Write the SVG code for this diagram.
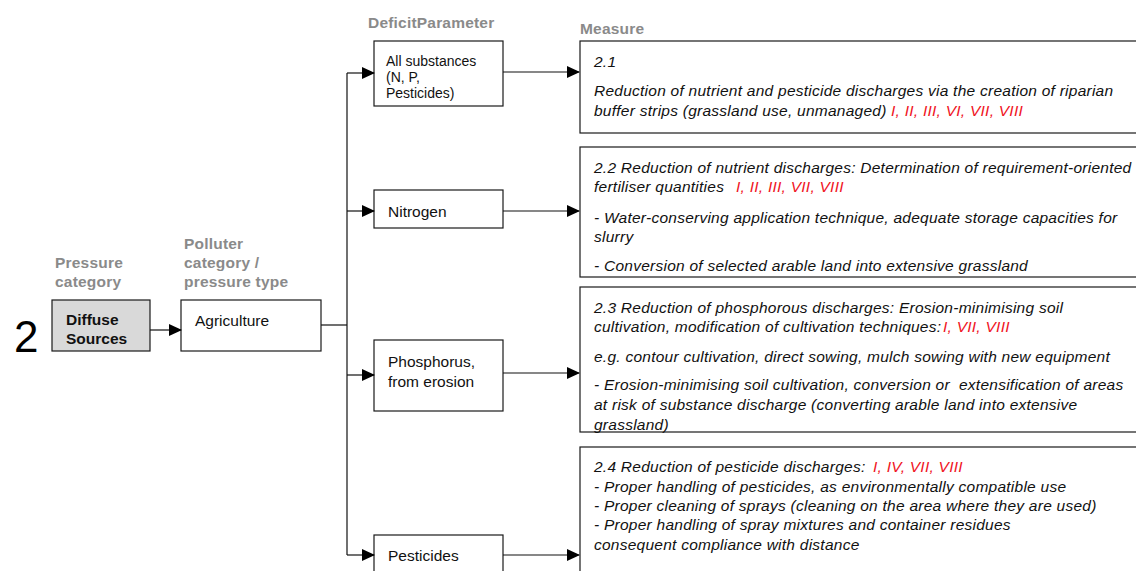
<svg xmlns="http://www.w3.org/2000/svg" width="1136" height="571" viewBox="0 0 1136 571">
  <style>
    .box { fill: #ffffff; stroke: #1a1a1a; stroke-width: 1.2; }
    .grey { fill: #d9d9d9; }
    .head { font-family: "Liberation Sans", Arial, sans-serif; font-size: 15.5px; font-weight: bold; fill: #8a8a8a; letter-spacing: 0.2px; }
    .lbl { font-family: "Liberation Sans", Arial, sans-serif; font-size: 15.5px; fill: #111111; }
    .small { font-size: 14px; }
    .bold { font-weight: bold; }
    .m { font-family: "Liberation Sans", Arial, sans-serif; font-size: 15.5px; font-style: italic; fill: #111111; letter-spacing: 0.25px; }
    .red { fill: #f0141e; }
    .conn { fill: none; stroke: #111111; stroke-width: 1.2; }
  </style>
  <defs>
    <marker id="arrow" markerUnits="userSpaceOnUse" markerWidth="13" markerHeight="12" refX="12" refY="6" orient="auto">
      <path d="M0,0 L13,6 L0,12 z" fill="#000000"/>
    </marker>
  </defs>
  <rect width="1136" height="571" fill="#ffffff"/>

  <!-- column headings -->
  <g id="headings">
    <text class="head" x="55" y="268">Pressure</text>
    <text class="head" x="55" y="287">category</text>
    <text class="head" x="184" y="249">Polluter</text>
    <text class="head" x="184" y="268">category /</text>
    <text class="head" x="184" y="287">pressure type</text>
    <text class="head" x="368" y="28">DeficitParameter</text>
    <text class="head" x="580" y="34">Measure</text>
  </g>

  <text x="14" y="352" font-family="Liberation Sans, Arial, sans-serif" font-size="44" fill="#000000">2</text>

  <g id="diffuse-sources">
    <rect class="box grey" x="52" y="300" width="98" height="51"/>
    <text class="lbl bold" x="66" y="325">Diffuse</text>
    <text class="lbl bold" x="66" y="344">Sources</text>
  </g>

  <g id="agriculture">
    <rect class="box" x="181" y="300" width="140" height="51"/>
    <text class="lbl" x="195" y="326">Agriculture</text>
  </g>

  <g id="all-substances">
    <rect class="box" x="374" y="41" width="129" height="65"/>
    <text class="lbl small" x="386" y="66">All substances</text>
    <text class="lbl small" x="386" y="82">(N, P,</text>
    <text class="lbl small" x="386" y="98">Pesticides)</text>
  </g>

  <g id="nitrogen">
    <rect class="box" x="374" y="190" width="129" height="38"/>
    <text class="lbl" x="388" y="217">Nitrogen</text>
  </g>

  <g id="phosphorus">
    <rect class="box" x="374" y="340" width="129" height="71"/>
    <text class="lbl" x="388" y="367">Phosphorus,</text>
    <text class="lbl" x="388" y="387">from erosion</text>
  </g>

  <g id="pesticides">
    <rect class="box" x="374" y="535" width="129" height="50"/>
    <text class="lbl" x="388" y="561">Pesticides</text>
  </g>

  <g id="measure-2-1">
    <rect class="box" x="580" y="41" width="570" height="92"/>
    <text class="m" x="594" y="67">2.1</text>
    <text class="m" x="594" y="96">Reduction of nutrient and pesticide discharges via the creation of riparian</text>
    <text class="m" x="594" y="116">buffer strips (grassland use, unmanaged)<tspan class="red" x="891">I, II, III, VI, VII, VIII</tspan></text>
  </g>

  <g id="measure-2-2">
    <rect class="box" x="580" y="147" width="570" height="130"/>
    <text class="m" x="594" y="173">2.2 Reduction of nutrient discharges: Determination of requirement-oriented</text>
    <text class="m" x="594" y="192">fertiliser quantities<tspan class="red" x="736">I, II, III, VII, VIII</tspan></text>
    <text class="m" x="594" y="223">- Water-conserving application technique, adequate storage capacities for</text>
    <text class="m" x="594" y="242">slurry</text>
    <text class="m" x="594" y="271">- Conversion of selected arable land into extensive grassland</text>
  </g>

  <g id="measure-2-3">
    <rect class="box" x="580" y="287" width="570" height="145"/>
    <text class="m" x="594" y="313">2.3 Reduction of phosphorous discharges: Erosion-minimising soil</text>
    <text class="m" x="594" y="332">cultivation, modification of cultivation techniques:<tspan class="red" x="943">I, VII, VIII</tspan></text>
    <text class="m" x="594" y="362">e.g. contour cultivation, direct sowing, mulch sowing with new equipment</text>
    <text class="m" x="594" y="390" xml:space="preserve">- Erosion-minimising soil cultivation, conversion or  extensification of areas</text>
    <text class="m" x="594" y="410">at risk of substance discharge (converting arable land into extensive</text>
    <text class="m" x="594" y="430">grassland)</text>
  </g>

  <g id="measure-2-4">
    <rect class="box" x="580" y="447" width="570" height="140"/>
    <text class="m" x="594" y="472">2.4 Reduction of pesticide discharges:<tspan class="red" x="873">I, IV, VII, VIII</tspan></text>
    <text class="m" x="594" y="492">- Proper handling of pesticides, as environmentally compatible use</text>
    <text class="m" x="594" y="511">- Proper cleaning of sprays (cleaning on the area where they are used)</text>
    <text class="m" x="594" y="530">- Proper handling of spray mixtures and container residues</text>
    <text class="m" x="594" y="550">consequent compliance with distance</text>
  </g>

  <g id="connectors">
    <line class="conn" x1="150" y1="330" x2="181" y2="330" marker-end="url(#arrow)"/>
    <line class="conn" x1="321" y1="325" x2="347" y2="325"/>
    <line class="conn" x1="347" y1="73" x2="347" y2="555"/>
    <line class="conn" x1="347" y1="73" x2="374" y2="73" marker-end="url(#arrow)"/>
    <line class="conn" x1="347" y1="211" x2="374" y2="211" marker-end="url(#arrow)"/>
    <line class="conn" x1="347" y1="375" x2="374" y2="375" marker-end="url(#arrow)"/>
    <line class="conn" x1="347" y1="555" x2="374" y2="555" marker-end="url(#arrow)"/>
    <line class="conn" x1="503" y1="72" x2="579" y2="72" marker-end="url(#arrow)"/>
    <line class="conn" x1="503" y1="211" x2="579" y2="211" marker-end="url(#arrow)"/>
    <line class="conn" x1="503" y1="373" x2="579" y2="373" marker-end="url(#arrow)"/>
    <line class="conn" x1="503" y1="555" x2="579" y2="555" marker-end="url(#arrow)"/>
  </g>
</svg>
